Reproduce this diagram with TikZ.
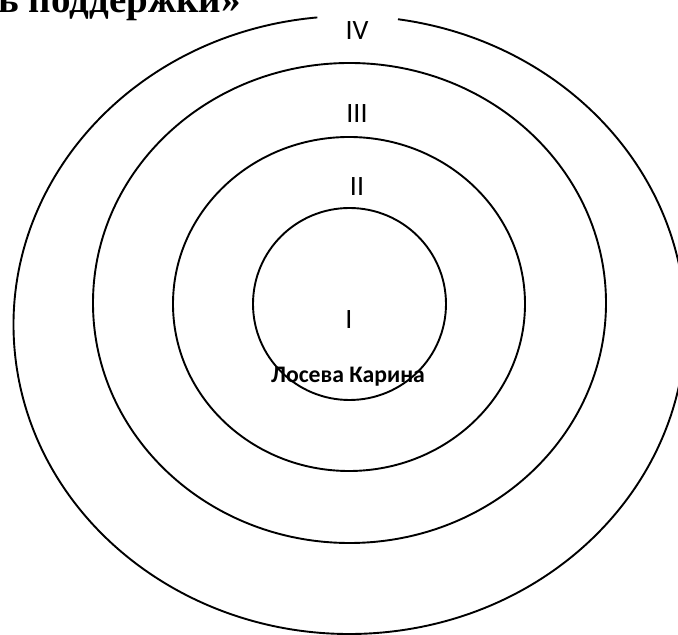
\documentclass[tikz,border=0pt]{standalone}
\usepackage{fontspec}
\setmainfont{Carlito}
\newfontfamily\titlefont{Liberation Serif}
\begin{document}
\begin{tikzpicture}[x=1pt,y=1pt,
  ring/.style={line width=1.9pt, black},
  numlabel/.style={inner sep=0pt, font=\fontsize{28}{30}\selectfont},
  namelabel/.style={inner sep=0pt, font=\fontsize{23.7}{25}\selectfont\bfseries},
  titlelabel/.style={inner sep=0pt, anchor=base east, font=\titlefont\fontsize{39}{41}\selectfont\bfseries}]
\useasboundingbox (0,0) rectangle (678,635);
\begin{scope}
\clip (0,0) rectangle (678,635);
% ring IV with gap at top
\draw[ring] (349.5,310) ++(95.5:336 and 309) arc[start angle=95.5, end angle=441.7, x radius=336, y radius=309];
% ring III
\draw[ring] (349.5,332) ellipse[x radius=256.5, y radius=240];
% ring II
\draw[ring] (349,331) ellipse[x radius=176, y radius=167];
% ring I
\draw[ring] (349.5,331) ellipse[x radius=96.5, y radius=96];
\node[titlelabel] (title) at (241,622) {ть поддержки»};
\end{scope}
\node[numlabel] (l4) at (357,604) {IV};
\node[numlabel] (l3) at (357,521) {III};
\node[numlabel] (l2) at (357,448) {II};
\node[numlabel] (l1) at (349,315) {I};
\node[namelabel] (name) at (348,258.5) {Лосева Карина};
\end{tikzpicture}
\end{document}
